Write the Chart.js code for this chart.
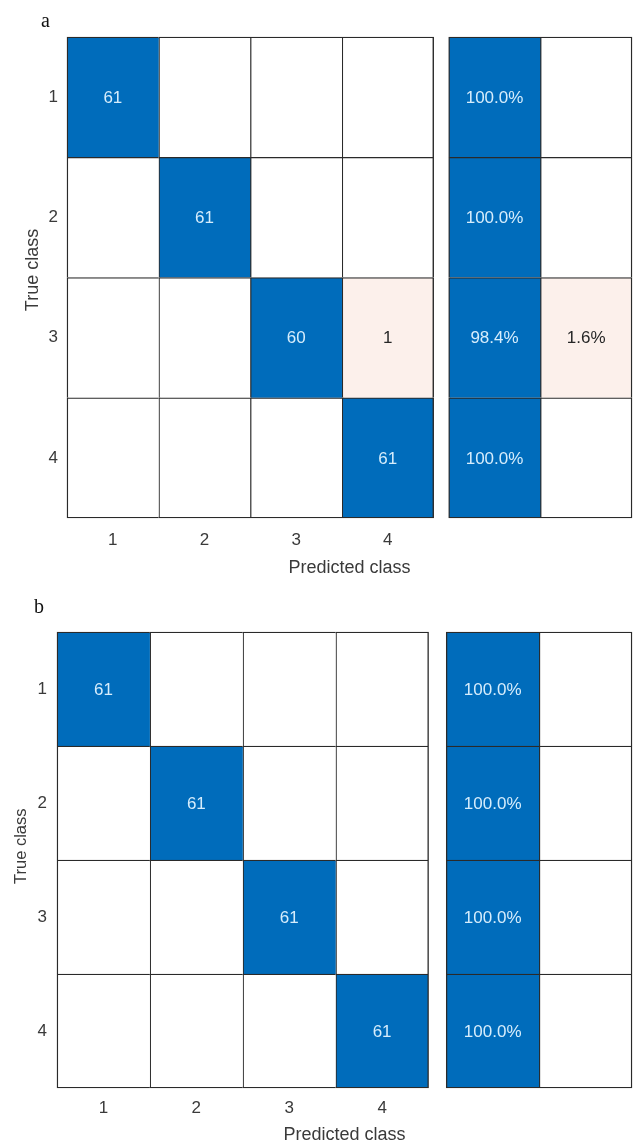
<!DOCTYPE html>
<html>
<head>
<meta charset="utf-8">
<title>Confusion matrices</title>
<script src="https://cdn.jsdelivr.net/npm/chart.js@4.4.1/dist/chart.umd.min.js"></script>
<style>
  html, body { margin: 0; padding: 0; background: #fff; }
  #page { position: relative; width: 642px; height: 1144px; overflow: hidden; background: #fff; }
  .panel { position: absolute; left: 0; }
  .tag { position: absolute; z-index: 2; font-family: "Liberation Serif", "Times New Roman", serif;
         font-size: 20px; line-height: 20px; color: #111; }
</style>
</head>
<body>
<div id="page">
  <canvas id="chartA" class="panel" width="642" height="590" style="top:0"></canvas>
  <canvas id="chartB" class="panel" width="642" height="554" style="top:590px"></canvas>
  <div class="tag" style="left:41px;top:10px">a</div>
  <div class="tag" style="left:34px;top:596px">b</div>
</div>
<script>
// Class names shared by both matrices (true class rows, predicted class columns)
const classLabels = ['1', '2', '3', '4'];

// Panel a: counts[true][predicted] and row-normalised summary [correct %, incorrect %]
const countsA = [
  [61, 0, 0, 0],
  [0, 61, 0, 0],
  [0, 0, 60, 1],
  [0, 0, 0, 61]
];
const rowPctA = [
  [100.0, 0],
  [100.0, 0],
  [98.4, 1.6],
  [100.0, 0]
];

// Panel b
const countsB = [
  [61, 0, 0, 0],
  [0, 61, 0, 0],
  [0, 0, 61, 0],
  [0, 0, 0, 61]
];
const rowPctB = [
  [100.0, 0],
  [100.0, 0],
  [100.0, 0],
  [100.0, 0]
];

const BLUE = '#006cbb';
const PINK = '#fcf0eb';
const LINE = '#2a2a2a';
const DARK_TEXT = '#262626';
const LIGHT_TEXT = '#d6edfc';
const AXIS_TEXT = '#3a3a3a';
const SANS = '"Liberation Sans", Arial, Helvetica, sans-serif';
const NBSP = '\u00a0';

function cellFill(v, correct) {
  if (!v) return '#ffffff';
  return correct ? BLUE : PINK;
}

// One floating horizontal bar per cell; each dataset is one column of the grid
function buildDatasets(counts, rowPct, gap) {
  const n = classLabels.length;
  const sets = [];
  for (let j = 0; j < n; j++) {
    sets.push({
      data: counts.map(() => [j, j + 1]),
      backgroundColor: counts.map((row, i) => cellFill(row[j], i === j)),
      cellText: counts.map(row => (row[j] ? String(row[j]) : '')),
      textColor: counts.map((row, i) => (row[j] && i === j ? LIGHT_TEXT : DARK_TEXT)),
      lastCol: j === n - 1
    });
  }
  for (let k = 0; k < 2; k++) {
    const s = n + gap + k;
    sets.push({
      data: rowPct.map(() => [s, s + 1]),
      backgroundColor: rowPct.map(r => cellFill(r[k], k === 0)),
      cellText: rowPct.map(r => (r[k] ? r[k].toFixed(1) + '%' : '')),
      textColor: rowPct.map(r => (r[k] && k === 0 ? LIGHT_TEXT : DARK_TEXT)),
      lastCol: k === 1
    });
  }
  return sets;
}

// Writes each cell's value in the middle of its bar
const cellLabels = {
  id: 'cellLabels',
  afterDatasetsDraw(chart) {
    const ctx = chart.ctx;
    ctx.save();
    ctx.font = '17px ' + SANS;
    ctx.textAlign = 'center';
    ctx.textBaseline = 'middle';
    chart.data.datasets.forEach((ds, d) => {
      chart.getDatasetMeta(d).data.forEach((bar, i) => {
        const t = ds.cellText[i];
        if (!t) return;
        ctx.fillStyle = ds.textColor[i];
        ctx.fillText(t, (bar.x + bar.base) / 2, bar.y + 1);
      });
    });
    ctx.restore();
  }
};

function makeMatrix(id, counts, rowPct, g) {
  const n = classLabels.length;
  return new Chart(document.getElementById(id), {
    type: 'bar',
    data: { labels: classLabels, datasets: buildDatasets(counts, rowPct, g.gap) },
    options: {
      indexAxis: 'y',
      responsive: false,
      animation: false,
      events: [],
      layout: { padding: { top: g.padTop, right: 10, left: 0, bottom: 0 } },
      datasets: {
        bar: {
          barPercentage: 1,
          categoryPercentage: 1,
          grouped: false,
          borderSkipped: false,
          borderColor: LINE,
          clip: false,
          borderWidth: c => ({
            left: 1.4,
            top: 1.4,
            right: c.dataset.lastCol ? 1.4 : 0,
            bottom: c.dataIndex === n - 1 ? 1.4 : 0
          })
        }
      },
      plugins: { legend: { display: false }, tooltip: { enabled: false } },
      scales: {
        x: {
          type: 'linear',
          min: 0,
          max: n + g.gap + 2,
          grid: { display: false, drawTicks: false },
          border: { display: false },
          afterBuildTicks: s => { s.ticks = classLabels.map((_, j) => ({ value: j + 0.5 })); },
          afterFit: s => { s.height = g.xHeight; },
          ticks: {
            autoSkip: false,
            maxRotation: 0,
            padding: g.xTickPad,
            color: AXIS_TEXT,
            font: { family: SANS, size: 17 },
            callback: v => classLabels[Math.floor(v)]
          },
          title: {
            display: true,
            text: 'Predicted class',
            color: AXIS_TEXT,
            font: { family: SANS, size: 18, lineHeight: 1 },
            padding: { top: 0, bottom: g.xTitlePad }
          }
        },
        y: {
          type: 'category',
          grid: { display: false, drawTicks: false },
          border: { display: false },
          afterFit: s => { s.width = g.yWidth; },
          ticks: { padding: g.yTickPad, color: AXIS_TEXT, font: { family: SANS, size: 17 } },
          title: {
            display: true,
            // leading spaces lift the rotated title slightly above the axis middle
            text: NBSP.repeat(g.yTitleLift) + 'True class',
            color: AXIS_TEXT,
            font: { family: SANS, size: g.yTitleSize, lineHeight: 1 },
            padding: { top: g.yTitlePad, bottom: 0 }
          }
        }
      }
    },
    plugins: [cellLabels]
  });
}

makeMatrix('chartA', countsA, rowPctA, {
  gap: 0.164, padTop: 37, yWidth: 67, xHeight: 72,
  xTickPad: 12, yTickPad: 9, xTitlePad: 13, yTitlePad: 24, yTitleSize: 18, yTitleLift: 3
});

makeMatrix('chartB', countsB, rowPctB, {
  gap: 0.19, padTop: 42, yWidth: 57, xHeight: 56,
  xTickPad: 10, yTickPad: 10, xTitlePad: 0, yTitlePad: 13.5, yTitleSize: 16.5, yTitleLift: 6
});
</script>
</body>
</html>
